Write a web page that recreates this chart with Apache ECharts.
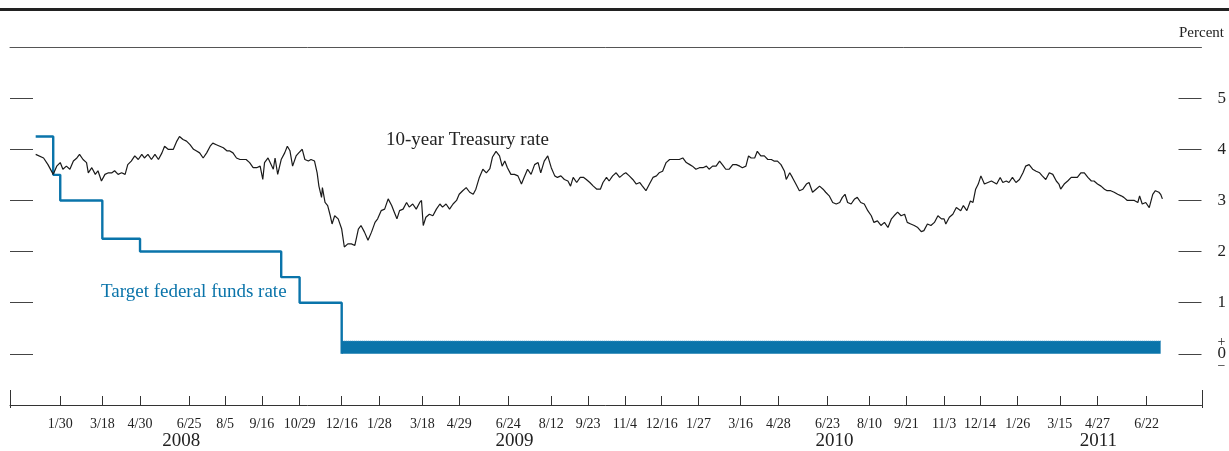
<!DOCTYPE html>
<html><head><meta charset="utf-8">
<script src="https://cdn.jsdelivr.net/npm/echarts@6/dist/echarts.min.js"></script>
<style>html,body{margin:0;padding:0;background:#fff}#c{width:1229px;height:451px}</style>
</head><body><div id="c"></div>
<script>
// ---- data ----
const tickDates = ['2008-01-30','2008-03-18','2008-04-30','2008-06-25','2008-08-05','2008-09-16','2008-10-29','2008-12-16',
  '2009-01-28','2009-03-18','2009-04-29','2009-06-24','2009-08-12','2009-09-23','2009-11-04','2009-12-16',
  '2010-01-27','2010-03-16','2010-04-28','2010-06-23','2010-08-10','2010-09-21','2010-11-03','2010-12-14',
  '2011-01-26','2011-03-15','2011-04-27','2011-06-22'];
const yearLabels = ['2008','2009','2010','2011'];
const yearLabelDates = ['2008-06-16','2009-07-01','2010-07-01','2011-04-28'];
const yTicks = [0,1,2,3,4,5];

// Target federal funds rate (step changes)
const ffDates = ['2008-01-02','2008-01-22','2008-01-30','2008-03-18','2008-04-30','2008-10-08','2008-10-29','2008-12-16'];
const ffRates = [4.25,3.5,3.0,2.25,2.0,1.5,1.0,0];
// Target range 0 to 1/4 percent
const bandDates = ['2008-12-16','2011-07-08'];
const bandTop = [0.25,0.25];

// 10-year Treasury rate: days since tStart, percent
const tStart = '2008-01-02';
const tDays = [0,9,14,20,24,28,31,35,39,43,47,50,54,58,60,64,68,71,75,79,83,87,90,94,98,102,105,109,113,117,121,124,128,132,136,140,144,147,151,157,161,164,168,172,176,180,183,187,191,195,199,202,206,210,214,218,221,225,229,233,237,240,244,248,252,256,259,261,265,271,273,276,280,284,287,290,293,297,300,304,307,311,314,318,321,323,326,327,330,333,336,338,341,345,349,352,356,360,364,368,371,375,379,383,387,390,394,398,402,406,409,412,415,419,423,426,430,434,438,440,442,445,449,453,457,461,464,468,472,476,480,483,487,491,495,499,502,506,510,514,518,521,525,529,532,535,538,542,546,550,554,557,561,563,565,569,573,576,580,584,588,592,595,599,603,607,610,613,617,621,625,628,632,636,640,644,647,651,654,658,662,666,670,673,677,681,685,689,692,696,700,704,708,711,715,719,723,727,730,734,738,742,746,749,753,757,761,765,768,772,776,780,784,787,791,795,799,803,806,810,813,816,820,823,827,831,835,839,842,846,850,854,856,860,863,867,871,875,879,882,886,890,894,898,901,905,909,913,917,920,923,926,930,934,937,941,945,949,953,956,960,964,968,972,976,979,983,987,991,994,998,1002,1006,1010,1013,1017,1021,1025,1029,1033,1036,1038,1042,1046,1050,1052,1055,1058,1062,1066,1069,1072,1075,1078,1082,1086,1090,1093,1096,1100,1103,1107,1110,1114,1118,1122,1126,1129,1133,1137,1141,1145,1148,1152,1156,1160,1164,1167,1169,1173,1177,1181,1185,1188,1192,1196,1200,1204,1207,1211,1215,1219,1222,1226,1230,1234,1238,1241,1245,1249,1253,1257,1259,1262,1266,1270,1274,1277,1281,1283,1285];
const tVals = [3.90,3.83,3.70,3.51,3.67,3.74,3.61,3.67,3.61,3.77,3.83,3.90,3.80,3.74,3.54,3.64,3.51,3.58,3.38,3.51,3.54,3.54,3.58,3.51,3.54,3.51,3.70,3.77,3.87,3.80,3.90,3.83,3.90,3.80,3.90,3.80,3.93,4.06,4.00,4.00,4.16,4.25,4.19,4.16,4.09,4.00,3.97,3.93,3.83,3.93,4.06,4.12,4.09,4.06,4.03,3.97,3.97,3.93,3.83,3.80,3.80,3.80,3.74,3.64,3.64,3.67,3.41,3.74,3.83,3.61,3.83,3.51,3.80,3.93,4.06,3.97,3.67,3.87,3.93,4.00,3.80,3.77,3.80,3.77,3.54,3.28,3.06,3.25,2.96,2.90,2.70,2.54,2.70,2.64,2.44,2.09,2.15,2.15,2.12,2.44,2.51,2.38,2.22,2.38,2.57,2.64,2.80,2.83,3.03,2.90,2.77,2.64,2.80,2.83,2.96,2.87,2.93,2.83,2.96,3.00,2.51,2.67,2.73,2.70,2.83,2.93,2.87,2.93,2.83,2.93,3.00,3.12,3.19,3.25,3.16,3.12,3.22,3.45,3.61,3.54,3.62,3.85,3.96,3.87,3.67,3.77,3.64,3.51,3.51,3.48,3.32,3.45,3.61,3.64,3.51,3.70,3.74,3.54,3.77,3.87,3.64,3.48,3.45,3.48,3.41,3.38,3.28,3.45,3.35,3.45,3.45,3.41,3.35,3.28,3.22,3.22,3.35,3.45,3.38,3.48,3.54,3.45,3.51,3.54,3.48,3.41,3.32,3.35,3.28,3.19,3.32,3.45,3.48,3.54,3.57,3.74,3.80,3.80,3.80,3.80,3.83,3.74,3.70,3.67,3.61,3.64,3.64,3.67,3.61,3.67,3.67,3.77,3.68,3.61,3.61,3.70,3.70,3.67,3.64,3.67,3.87,3.83,3.83,3.96,3.87,3.87,3.80,3.80,3.77,3.77,3.70,3.57,3.41,3.54,3.45,3.32,3.19,3.22,3.32,3.35,3.16,3.22,3.28,3.22,3.16,3.09,2.96,2.93,2.96,3.06,3.12,2.96,2.93,3.03,3.06,2.96,2.93,2.80,2.70,2.57,2.60,2.51,2.57,2.47,2.64,2.70,2.77,2.70,2.73,2.57,2.54,2.51,2.47,2.39,2.41,2.54,2.51,2.57,2.70,2.64,2.64,2.54,2.67,2.73,2.86,2.86,2.80,2.90,2.80,2.99,2.96,3.22,3.32,3.48,3.32,3.35,3.38,3.35,3.32,3.45,3.35,3.38,3.35,3.45,3.35,3.41,3.54,3.67,3.70,3.61,3.57,3.54,3.48,3.41,3.54,3.51,3.38,3.32,3.22,3.32,3.38,3.45,3.45,3.45,3.54,3.54,3.45,3.38,3.38,3.32,3.28,3.22,3.19,3.19,3.16,3.12,3.09,3.06,3.00,3.00,3.00,2.96,3.09,2.93,2.96,2.86,3.12,3.19,3.16,3.12,3.03];

// ---- build ----
const DAY = 86400000;
function ts(s){ const p = s.split('-').map(Number); return Date.UTC(p[0], p[1]-1, p[2]); }
const base = ts(tStart);
const xMin = base - 29.3*DAY, xMax = base + 1329.6*DAY;
const tickTs = tickDates.map(ts);
const yearTs = yearLabelDates.map(ts);
const treasury = tDays.map((d,i)=>[base + d*DAY, tVals[i]]);
const ff = ffDates.map((d,i)=>[ts(d), ffRates[i]]);
const band = bandDates.map((d,i)=>[ts(d), bandTop[i]]);

const FONT = 'Liberation Serif';
const BLUE = '#0a74aa';
const INK = '#222';

const chart = echarts.init(document.getElementById('c'), null, {renderer:'canvas'});
chart.setOption({
  animation:false,
  backgroundColor:'#fff',
  grid:[{left:10,right:27,top:47,bottom:43},{left:10,right:27,top:47,bottom:43}],
  xAxis:[
    {type:'value',gridIndex:0,position:'bottom',min:xMin,max:xMax,scale:true,
     axisLine:{show:true,onZero:false,lineStyle:{color:'#333',width:1}},
     axisTick:{show:true,inside:true,length:9,customValues:tickTs,lineStyle:{color:'#333',width:1}},
     axisLabel:{show:true,customValues:tickTs.concat(yearTs),hideOverlap:false,margin:12,
       fontFamily:FONT,fontSize:14,color:INK,lineHeight:14,
       formatter:function(v){
         const yi = yearTs.indexOf(v);
         if (yi >= 0) return '\n{y|' + yearLabels[yi] + '}';
         const d = new Date(v); return (d.getUTCMonth()+1) + '/' + d.getUTCDate();
       },
       rich:{y:{fontFamily:FONT,fontSize:19,lineHeight:20,color:INK}}},
     splitLine:{show:false}},
    {type:'value',gridIndex:0,position:'top',min:0,max:1,
     axisLine:{show:true,onZero:false,lineStyle:{color:'#555',width:1}},
     axisTick:{show:false},axisLabel:{show:false},splitLine:{show:false}},
    {type:'value',gridIndex:1,position:'bottom',min:xMin,max:xMax,scale:true,
     axisLine:{show:false,onZero:false},
     axisTick:{show:true,inside:true,length:18,customValues:[xMin,xMax],lineStyle:{color:'#333',width:1}},
     axisLabel:{show:false},splitLine:{show:false}}
  ],
  yAxis:[
    {type:'value',gridIndex:0,position:'left',min:-1,max:6,interval:1,
     axisLine:{show:false,onZero:false},
     axisTick:{show:true,inside:true,length:23,customValues:yTicks,lineStyle:{color:'#444',width:1}},
     axisLabel:{show:false},splitLine:{show:false}},
    {type:'value',gridIndex:0,position:'right',min:-1,max:6,interval:1,
     name:'Percent',nameLocation:'end',nameGap:6,
     nameTextStyle:{fontFamily:FONT,fontSize:15,color:INK,align:'center'},
     axisLine:{show:false,onZero:false},
     axisTick:{show:true,inside:true,length:23,customValues:yTicks,lineStyle:{color:'#444',width:1}},
     axisLabel:{show:true,customValues:yTicks,margin:16,fontFamily:FONT,fontSize:17,color:INK,
       formatter:function(v){ return v === 0 ? '{s|+}\n{z|0}\n{s|\u2212}' : String(v); },
       rich:{s:{fontFamily:FONT,fontSize:14,lineHeight:11,color:INK},z:{fontFamily:FONT,fontSize:17,lineHeight:13,color:INK}}},
     splitLine:{show:false}},
    {type:'value',gridIndex:1,show:false,min:-1,max:6}
  ],
  graphic:[
    {type:'rect',left:0,top:8,shape:{width:1229,height:3},style:{fill:'#222'}},
    {type:'text',x:386,y:140,style:{text:'10-year Treasury rate',font:'19px "Liberation Serif"',fill:INK,textVerticalAlign:'middle'}},
    {type:'text',x:101,y:292,style:{text:'Target federal funds rate',font:'19px "Liberation Serif"',fill:BLUE,textVerticalAlign:'middle'}}
  ],
  series:[
    {type:'line',name:'band',xAxisIndex:0,yAxisIndex:0,data:band,showSymbol:false,symbol:'none',
     lineStyle:{color:'#3b93c4',width:1,type:'dotted'},
     areaStyle:{color:BLUE,opacity:1,origin:0}},
    {type:'line',name:'Target federal funds rate',xAxisIndex:0,yAxisIndex:0,data:ff,step:'end',
     showSymbol:false,symbol:'none',lineStyle:{color:BLUE,width:2.4}},
    {type:'line',name:'10-year Treasury rate',xAxisIndex:0,yAxisIndex:0,data:treasury,
     showSymbol:false,symbol:'none',lineStyle:{color:'#1a1a1a',width:1.2}}
  ]
});
</script>
</body></html>
